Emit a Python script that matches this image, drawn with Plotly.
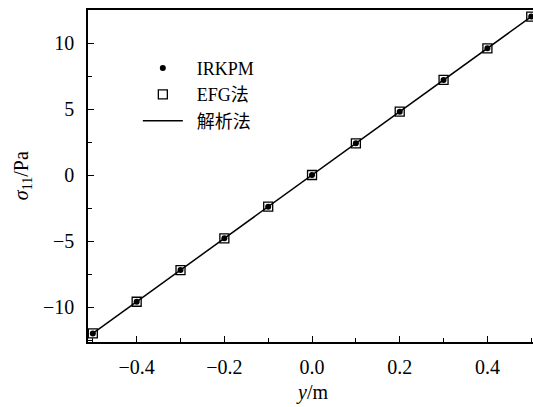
import plotly.graph_objects as go

y_pos = [-0.5, -0.4, -0.3, -0.2, -0.1, 0.0, 0.1, 0.2, 0.3, 0.4, 0.5]
sigma_irkpm = [-12.0, -9.6, -7.2, -4.8, -2.4, 0.0, 2.4, 4.8, 7.2, 9.6, 12.0]
sigma_efg = [-12.0, -9.6, -7.2, -4.8, -2.4, 0.0, 2.4, 4.8, 7.2, 9.6, 12.0]
sigma_exact = [-12.0, 12.0]
y_exact = [-0.5, 0.5]
x_ticks = [-0.4, -0.2, 0.0, 0.2, 0.4]
x_ticklabels = ["\u22120.4", "\u22120.2", "0.0", "0.2", "0.4"]
y_ticks = [-10, -5, 0, 5, 10]
y_ticklabels = ["\u221210", "\u22125", "0", "5", "10"]

FONT = "Liberation Serif, 'Noto Sans CJK SC', serif"
SP = "\u00a0\u00a0"

fig = go.Figure()
fig.add_trace(go.Scatter(x=y_exact, y=sigma_exact, mode="lines", name=SP + "解析法",
                         line=dict(color="black", width=1.5), legendrank=3))
fig.add_trace(go.Scatter(x=y_pos, y=sigma_efg, mode="markers", name=SP + "EFG法",
                         marker=dict(symbol="square-open", size=9, color="black",
                                     line=dict(width=1.3, color="black")),
                         legendrank=2))
fig.add_trace(go.Scatter(x=y_pos, y=sigma_irkpm, mode="markers", name=SP + "IRKPM",
                         marker=dict(symbol="circle", size=6, color="black"),
                         legendrank=1))

fig.update_layout(
    width=533, height=407,
    margin=dict(l=88, r=0, t=10, b=65, autoexpand=False),
    paper_bgcolor="white", plot_bgcolor="white",
    font=dict(family=FONT, size=20, color="black"),
    showlegend=True,
    legend=dict(x=0.112, y=0.88, xanchor="left", yanchor="top",
                traceorder="normal", bgcolor="rgba(0,0,0,0)",
                font=dict(family=FONT, size=18), itemwidth=40,
                tracegroupgap=0),
    xaxis=dict(range=[-0.511, 0.504], tickvals=x_ticks, ticktext=x_ticklabels,
               ticks="inside", ticklen=6, tickwidth=1.2, tickcolor="black",
               ticklabelstandoff=6,
               minor=dict(tickvals=[-0.5, -0.3, -0.1, 0.1, 0.3, 0.5], ticks="inside",
                          ticklen=4, tickwidth=1.2, tickcolor="black"),
               showline=True, linecolor="black", linewidth=1.5, mirror=True,
               showgrid=False, zeroline=False, automargin=False),
    yaxis=dict(range=[-12.65, 12.5], tickvals=y_ticks, ticktext=y_ticklabels,
               ticks="inside", ticklen=6, tickwidth=1.2, tickcolor="black",
               ticklabelstandoff=8,
               minor=dict(tickvals=[-12.5, -7.5, -2.5, 2.5, 7.5, 12.5], ticks="inside",
                          ticklen=4, tickwidth=1.2, tickcolor="black"),
               showline=True, linecolor="black", linewidth=1.5,
               showgrid=False, zeroline=False, automargin=False),
    annotations=[
        dict(text="<i>y</i>/m", xref="paper", yref="paper", x=0.503, y=-0.151,
             xanchor="center", yanchor="middle", showarrow=False,
             font=dict(family=FONT, size=20)),
        dict(text="<i>σ</i><sub>11</sub>/Pa", xref="paper", yref="paper", x=-0.148, y=0.5,
             xanchor="center", yanchor="middle", textangle=-90, showarrow=False,
             font=dict(family=FONT, size=20)),
    ],
)

fig.write_html("out.html", config={"displayModeBar": False},
               post_script="document.body.style.margin='0';document.body.style.overflow='hidden';")
